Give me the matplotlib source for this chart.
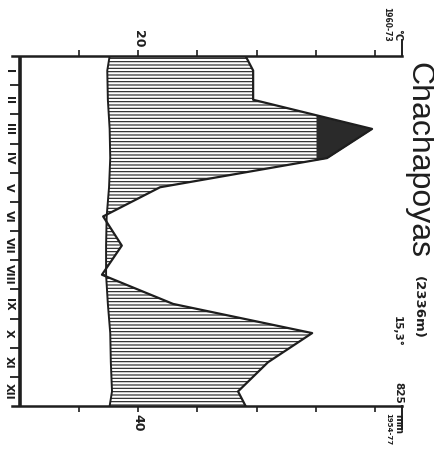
import numpy as np
import matplotlib
matplotlib.use("Agg")
import matplotlib.pyplot as plt

# Walter-Lieth climate diagram, drawn turned by 90 degrees (months run top to bottom)
months = ['I', 'II', 'III', 'IV', 'V', 'VI', 'VII', 'VIII', 'IX', 'X', 'XI', 'XII']
temp_c = [14.8, 14.9, 15.2, 15.3, 15.1, 14.7, 14.6, 14.6, 14.9, 15.3, 15.4, 15.6]
precip_mm = [78.8, 78.8, 118.9, 103.7, 47.4, 28.2, 34.5, 27.8, 51.8, 98.7, 83.8, 73.7]
temp_ticks = [10, 20, 30, 40, 50, 60]
temp_labels = ['', '20', '', '', '', '']
precip_ticks = [20, 40, 60, 80, 100, 120]
precip_labels = ['', '40', '', '', '', '']

W, H = 434, 449
ink = '#1e1e1e'
plt.rcParams['hatch.linewidth'] = 0.8
plt.rcParams['hatch.color'] = ink

fig = plt.figure(figsize=(W / 100, H / 100), dpi=100)
ax = fig.add_axes([19.5 / W, 1 - 406 / H, 382.5 / W, 350 / H])
ax.set_xlim(0, 64.5)
ax.set_ylim(12, 0)

# month centres, plus both edges (mean of Dec and Jan)
t = np.array(temp_c)
p = np.array(precip_mm) / 2.0   # 20 mm = 10 degC
y = np.concatenate([[0], np.arange(12) + 0.5, [12]])
t_ext = np.concatenate([[(t[0] + t[-1]) / 2], t, [(t[0] + t[-1]) / 2]])
p_ext = np.concatenate([[(p[0] + p[-1]) / 2], p, [(p[0] + p[-1]) / 2]])

ax.fill_betweenx(y, t_ext, p_ext, where=p_ext >= t_ext, interpolate=True,
                 facecolor='white', edgecolor=ink, hatch='-----', linewidth=0)
ax.fill_betweenx(y, t_ext, p_ext, where=p_ext < t_ext, interpolate=True,
                 facecolor='white', edgecolor=ink, hatch='....', linewidth=0)
ax.fill_betweenx(y, 50, p_ext, where=p_ext > 50, interpolate=True,
                 color='#2a2a2a', linewidth=0)
ax.plot(t_ext, y, color=ink, lw=1.4)
ax.plot(p_ext, y, color=ink, lw=1.6)

# frame
for s in ax.spines.values():
    s.set_visible(False)
ax.plot([0, 0], [0, 12], color=ink, lw=2.6, clip_on=False, solid_capstyle='butt')
ax.plot([-1.3, 64.5], [0, 0], color=ink, lw=1.8, clip_on=False)
ax.plot([-1.3, 64.5], [12, 12], color=ink, lw=1.8, clip_on=False)
ax.plot([64.5, 64.5], [0, -0.55], color=ink, lw=1.4, clip_on=False)
ax.plot([64.5, 64.5], [12, 12.8], color=ink, lw=1.4, clip_on=False)

# top: temperature scale
ax.xaxis.tick_top()
ax.set_xticks(temp_ticks)
ax.set_xticklabels(temp_labels, rotation=-90, fontweight='bold', fontsize=9)
ax.tick_params(axis='x', direction='out', length=4, width=1.2, pad=2, colors=ink)

# bottom: precipitation scale
sec = ax.secondary_xaxis('bottom', functions=(lambda x: x * 2, lambda x: x / 2))
sec.set_xticks(precip_ticks)
sec.set_xticklabels(precip_labels, rotation=-90, fontweight='bold', fontsize=9)
sec.tick_params(axis='x', direction='out', length=4, width=1.2, pad=2, colors=ink)
for s in sec.spines.values():
    s.set_visible(False)

# months
ax.set_yticks(np.arange(1, 12))
ax.set_yticklabels([])
ax.set_yticks(np.arange(12) + 0.5, minor=True)
ax.set_yticklabels(months, minor=True, rotation=-90, fontweight='bold', fontsize=8,
                   va='center')
ax.tick_params(axis='y', which='major', direction='out', length=7, width=1.3, colors=ink)
ax.tick_params(axis='y', which='minor', length=0, pad=4, colors=ink)

# annotations
def note(x, y, s, size, weight='bold', family='DejaVu Sans'):
    fig.text(x / W, 1 - y / H, s, rotation=-90, ha='center', va='top',
             fontsize=size, fontweight=weight, family=family, color=ink)

note(418, 62, 'Chachapoyas', 23, weight='normal', family='Liberation Sans')
note(418, 276, '(2336m)', 9.5)
note(397, 29, '°C', 7)
note(387, 7, '1960-73', 5.5)
note(397, 316, '15,3°', 7.5)
note(398, 382, '825', 7.5)
note(398, 414, 'mm', 7)
note(388, 413, '1954-77', 5)

fig.savefig('out.png', dpi=100, facecolor='white')
